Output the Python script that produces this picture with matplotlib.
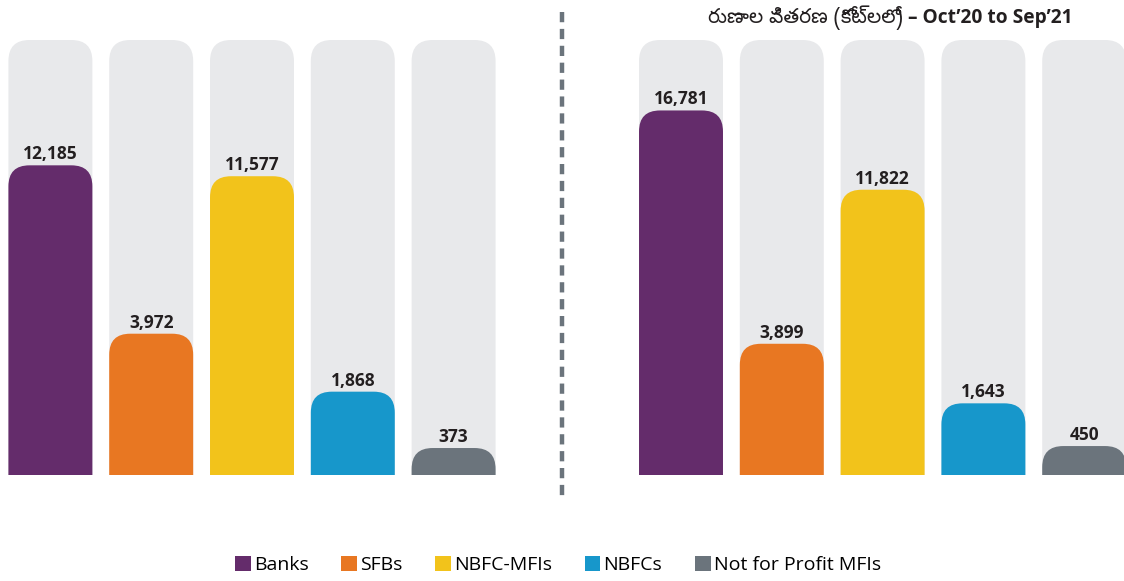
import matplotlib.pyplot as plt
import numpy as np
from matplotlib.patches import FancyBboxPatch, Patch
from matplotlib.transforms import blended_transform_factory
from matplotlib.lines import Line2D

# data
categories = ['Banks', 'SFBs', 'NBFC-MFIs', 'NBFCs', 'Not for Profit MFIs']
colors = ['#642c6b', '#e87722', '#f2c31b', '#1797cb', '#6b747c']
left_values = [12185, 3972, 11577, 1868, 373]
right_values = [16781, 3899, 11822, 1643, 450]
title_te = 'రుణాల వితరణ (కోట్లలో)'
title_en = ' – Oct’20 to Sep’21'

W, H = 1124, 581
fig = plt.figure(figsize=(W / 100, H / 100), dpi=100)
fig.patch.set_facecolor('white')

bg = '#e8e9eb'
bar_w = 0.833
pitch_px = 100.8
ax_h_px = 435
radius_px = 21
p = 0.7  # the infographic isn't linear, power scale fits better


def fwd(v):
    return np.sign(v) * np.abs(v) ** p


def inv(v):
    return np.sign(v) * np.abs(v) ** (1 / p)


def panel(left_px, values, ymax):
    ax = fig.add_axes([left_px / W, 106 / H, 504 / W, ax_h_px / H])
    ax.set_xlim(-0.5, 4.5)
    ax.set_yscale('function', functions=(fwd, inv))
    ax.set_ylim(0, ymax)
    ax.axis('off')
    tr = blended_transform_factory(ax.transData, ax.transAxes)
    to_axes = ax.transScale + ax.transLimits
    rs = radius_px / pitch_px
    asp = pitch_px / ax_h_px
    for i, v in enumerate(values):
        # grey column behind
        ax.add_patch(FancyBboxPatch((i - bar_w / 2, -0.2), bar_w, 1.2,
                                    boxstyle=f'round,pad=0,rounding_size={rs}',
                                    mutation_aspect=asp, fc=bg, ec='none',
                                    transform=tr))
        top = to_axes.transform((i, v))[1]
        ax.add_patch(FancyBboxPatch((i - bar_w / 2, -0.2), bar_w, top + 0.2,
                                    boxstyle=f'round,pad=0,rounding_size={rs}',
                                    mutation_aspect=asp, fc=colors[i], ec='none',
                                    transform=tr))
        ax.text(i, top + 6 / ax_h_px, f'{v:,}', transform=tr, ha='center',
                va='baseline', fontsize=12.5, fontweight='bold',
                family=['Open Sans', 'DejaVu Sans'], color='#231f20')
    return ax


panel(0, left_values, 19800)
panel(630.6, right_values, 21600)

# dashed separator
fig.add_artist(Line2D([562 / W, 562 / W], [1 - 12 / H, 1 - 497 / H],
                      transform=fig.transFigure, color='#6b747c', lw=3.2,
                      linestyle=(0, (2.3, 1.5))))

# title
fig.text(903 / W, 1 - 18 / H, title_te, ha='right', va='center', fontsize=14.5,
         family=['Noto Sans Telugu', 'Noto Sans', 'DejaVu Sans'], color='#231f20')
fig.text(903 / W, 1 - 18 / H, title_en, ha='left', va='center', fontsize=13.8,
         fontweight='bold', family=['Open Sans', 'DejaVu Sans'], color='#231f20')

handles = [Patch(fc=c, ec='none') for c in colors]
fig.legend(handles, categories, loc='center', bbox_to_anchor=(558 / W, 1 - 565 / H),
           ncol=5, frameon=False, handlelength=0.8, handleheight=0.8,
           handletextpad=0.15, columnspacing=1.7,
           prop={'family': ['Open Sans', 'DejaVu Sans'], 'size': 14})

fig.savefig('out.png', dpi=100)
